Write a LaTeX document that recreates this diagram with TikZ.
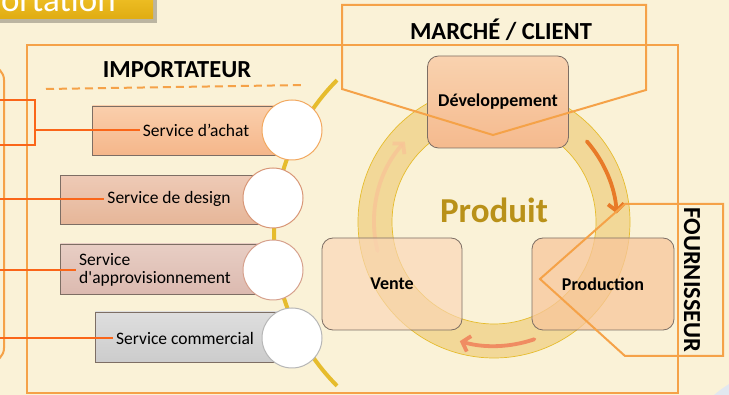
\documentclass[tikz,border=0pt]{standalone}
\usepackage{fontspec}
\setmainfont{Carlito}
\usepackage{xcolor}
\usetikzlibrary{arrows.meta}

\definecolor{bgcream}{RGB}{250,242,215}
\definecolor{frameorange}{RGB}{245,162,72}
\definecolor{linkred}{RGB}{250,102,25}
\definecolor{goldtop}{RGB}{242,196,42}
\definecolor{goldbot}{RGB}{224,172,18}
\definecolor{ringfill}{RGB}{238,200,110}
\definecolor{arcgold}{RGB}{230,188,45}
\definecolor{produitgold}{RGB}{185,145,25}
\definecolor{boxedge}{RGB}{125,110,100}
\definecolor{cornerblue}{RGB}{226,232,240}

\begin{document}
\begin{tikzpicture}[x=1pt,y=-1pt,
    frame/.style={draw=frameorange, line width=2pt},
    link/.style={draw=linkred, line width=2.4pt},
    head/.style={font=\bfseries\fontsize{24.5}{26}\selectfont},
    svcbox/.style={draw=boxedge, line width=0.8pt, minimum height=49, anchor=west, inner sep=0},
    svctext/.style={font=\fontsize{17.5}{18}\selectfont, inner sep=3pt},
    hub/.style={circle, fill=white, minimum size=60, inner sep=0, line width=1pt},
    stage/.style={draw=boxedge, line width=0.8pt, rounded corners=11, minimum width=141,
                  minimum height=92, font=\bfseries\fontsize{18}{19}\selectfont},
    turn/.style={line width=3.8pt, line cap=round, -{Straight Barb[length=7pt, width=16pt]}}]

    \useasboundingbox (0,0) rectangle (729,395);
    \clip (0,0) rectangle (729,395);
    \fill[bgcream] (0,0) rectangle (729,395);
    \fill[cornerblue] (714,395) .. controls (720,390) .. (729,384) -- (729,395) -- cycle;

    \fill[black, opacity=0.25] (-10,-10) rectangle (157,23);
    \shade[top color=goldtop, bottom color=goldbot] (-10,-10) rectangle (153,19);
    \node[anchor=base east, text=white, font=\fontsize{35}{36}\selectfont, inner sep=0] (title) at (116,11.5) {Importation};

    \draw[frame] (27,45) rectangle (678,393);
    \draw[frame, rounded corners=14] (-30,66) rectangle (4,362);

    \node[head] (imp) at (177,70) {IMPORTATEUR};
    \draw[frame, dash pattern=on 8pt off 5pt] (46,89) -- (305,85);

    \draw[arcgold, line width=4pt] (491,233) ++(224.8:217) arc[start angle=224.8, end angle=135.2, radius=217];

    \node[svcbox, minimum width=200, top color={rgb,255:red,250;green,207;blue,172}, bottom color={rgb,255:red,245;green,182;blue,138}] (achatbox) at (92,130.5) {};
    \node[svcbox, minimum width=213, top color={rgb,255:red,238;green,202;blue,182}, bottom color={rgb,255:red,230;green,182;blue,152}] (designbox) at (60,200) {};
    \node[svcbox, minimum width=213, minimum height=50, top color={rgb,255:red,232;green,206;blue,196}, bottom color={rgb,255:red,220;green,186;blue,176}] (approbox) at (60,269) {};
    \node[svcbox, minimum width=197, minimum height=50, top color={rgb,255:red,222;green,222;blue,222}, bottom color={rgb,255:red,204;green,204;blue,204}] (commbox) at (95,337) {};

    \node[svctext] (achat) at (196,130) {Service d’achat};
    \node[svctext] (design) at (169,199) {Service de design};
    \node[svctext, anchor=west, align=left] (appro) at (76,270) {Service\\d\textquotesingle approvisionnement};
    \node[svctext] (comm) at (185,338) {Service commercial};

    \node[hub, draw={rgb,255:red,242;green,168;blue,95}] (h1) at (292,130) {};
    \node[hub, draw={rgb,255:red,216;green,150;blue,118}] (h2) at (273,198) {};
    \node[hub, draw={rgb,255:red,214;green,160;blue,140}] (h3) at (273,270) {};
    \node[hub, draw={rgb,255:red,182;green,182;blue,182}] (h4) at (292,338) {};

    \draw[link] (-5,100) rectangle (35,145);
    \coordinate (l1) at (35,130);
    \coordinate (l2) at (0,199);
    \coordinate (l3) at (0,270);
    \coordinate (l4) at (0,338);
    \draw[link] (l1) -- (l1 -| achat.west);
    \draw[link] (l2) -- (l2 -| design.west);
    \draw[link] (l3) -- (l3 -| appro.west);
    \draw[link] (l4) -- (l4 -| comm.west);

    \coordinate (ring) at (494,222);
    \fill[ringfill, opacity=0.6, even odd rule] (ring) circle[radius=136] (ring) circle[radius=102];
    \draw[arcgold, line width=0.7pt] (ring) circle[radius=136] (ring) circle[radius=102];

    \draw[turn, draw={rgb,255:red,232;green,122;blue,40}] (ring) ++(-41:123) arc[start angle=-41, end angle=-4, radius=123];
    \draw[turn, draw={rgb,255:red,240;green,140;blue,98}] (ring) ++(71:124) arc[start angle=71, end angle=106, radius=124];
    \draw[turn, draw={rgb,255:red,248;green,196;blue,150}, opacity=0.8] (ring) ++(166:120) arc[start angle=166, end angle=222, radius=120];

    \node[stage, top color={rgb,255:red,249;green,210;blue,175}, bottom color={rgb,255:red,245;green,186;blue,142}] (dev) at (498,102) {Développement};
    \node[stage, fill={rgb,255:red,250;green,214;blue,182}, fill opacity=0.65, text opacity=1, minimum width=140] (vente) at (392,284) {Vente};
    \node[stage, fill={rgb,255:red,248;green,198;blue,155}, fill opacity=0.75, text opacity=1, minimum width=142] (prod) at (603,284) {Production};

    \node[font=\bfseries\fontsize{35}{37}\selectfont, text=produitgold] (produit) at (494,210) {Produit};

    \draw[frame] (342,5) -- (646,5) -- (646,90) -- (493,135) -- (342,89) -- cycle;
    \node[head] (client) at (501,30) {MARCHÉ / CLIENT};

    \draw[frame] (625,204) -- (723,204) -- (723,356) -- (625,356) -- (540,279) -- cycle;
    \node[head, rotate=-90] (fourn) at (692,280) {FOURNISSEUR};

\end{tikzpicture}
\end{document}
